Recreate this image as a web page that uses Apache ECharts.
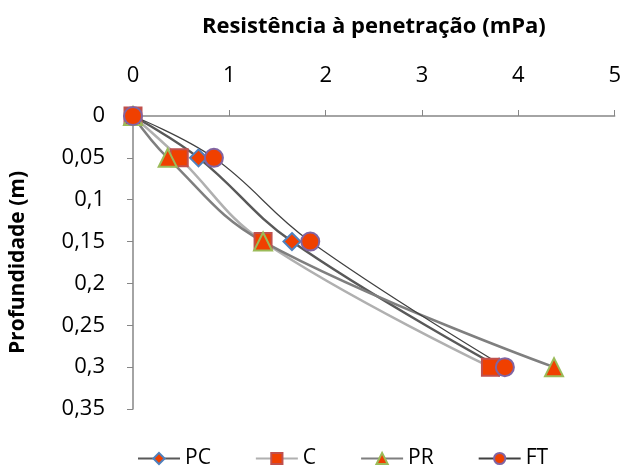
<!DOCTYPE html>
<html>
<head>
<meta charset="utf-8">
<script src="https://cdn.jsdelivr.net/npm/echarts@6/dist/echarts.min.js"></script>
<style>
html,body{margin:0;padding:0;background:#fff;}
#main{width:624px;height:472px;}
</style>
</head>
<body>
<div id="main"></div>
<script>
// profundidade (m)
const depths = [0, 0.05, 0.15, 0.3]
// resistência à penetração (mPa) por tratamento
const pc = [0, 0.68, 1.65, 3.80]
const c = [0, 0.48, 1.35, 3.71]
const pr = [0, 0.36, 1.35, 4.37]
const ft = [0, 0.84, 1.84, 3.86]
const xTicks = [0, 1, 2, 3, 4, 5]

const font = '"Open Sans", sans-serif'
const fill = '#f04000'

function pairs(vals){
    return vals.map((v, i) => [v, depths[i]])
}

function serie(name, vals, symbol, size, border, lineColor, lineWidth){
    return {
        name: name,
        type: 'line',
        smooth: 0.4,
        symbol: symbol,
        symbolSize: size,
        showAllSymbol: true,
        data: pairs(vals),
        lineStyle: {color: lineColor, width: lineWidth},
        itemStyle: {color: fill, borderColor: border, borderWidth: 2},
        emphasis: {disabled: true}
    }
}

const myEcharts = echarts.init(document.getElementById('main'))
myEcharts.setOption({
    animation: false,
    grid: {left: 131, right: 6, top: 116, bottom: 63},
    legend: {
        top: 443,
        left: 132,
        itemWidth: 42,
        itemHeight: 14,
        itemGap: 44,
        textStyle: {fontFamily: font, fontSize: 21, color: '#000'},
        data: ['PC', 'C', 'PR', 'FT']
    },
    xAxis: {
        type: 'value',
        position: 'top',
        min: xTicks[0],
        max: xTicks[xTicks.length - 1],
        interval: 1,
        name: 'Resistência à penetração (mPa)',
        nameLocation: 'middle',
        nameGap: 78,
        nameTextStyle: {fontFamily: font, fontSize: 22, fontWeight: 'bold', color: '#000'},
        axisLine: {lineStyle: {color: '#868686', width: 1.5}},
        axisTick: {show: true, length: 6, lineStyle: {color: '#868686'}},
        axisLabel: {fontFamily: font, fontSize: 22, color: '#000', margin: 29},
        splitLine: {show: false}
    },
    yAxis: {
        type: 'value',
        inverse: true,
        min: 0,
        max: 0.35,
        interval: 0.05,
        name: 'Profundidade (m)',
        nameLocation: 'middle',
        nameGap: 104,
        nameTextStyle: {fontFamily: font, fontSize: 21, fontWeight: 'bold', color: '#000'},
        axisLine: {show: true, lineStyle: {color: '#868686', width: 1.5}},
        axisTick: {show: true, length: 6, lineStyle: {color: '#868686'}},
        axisLabel: {
            fontFamily: font, fontSize: 22, color: '#000', margin: 28,
            formatter: v => String(+v.toFixed(2)).replace('.', ',')
        },
        splitLine: {show: false}
    },
    series: [
        serie('PC', pc, 'diamond', 17, '#4f81bd', '#595959', 2.5),
        serie('C', c, 'rect', 17, '#c0504d', '#b0b0b0', 2.5),
        serie('PR', pr, 'triangle', 18, '#9bbb59', '#7f7f7f', 2.5),
        serie('FT', ft, 'circle', 18, '#8064a2', '#404040', 1.2)
    ]
})
</script>
</body>
</html>
